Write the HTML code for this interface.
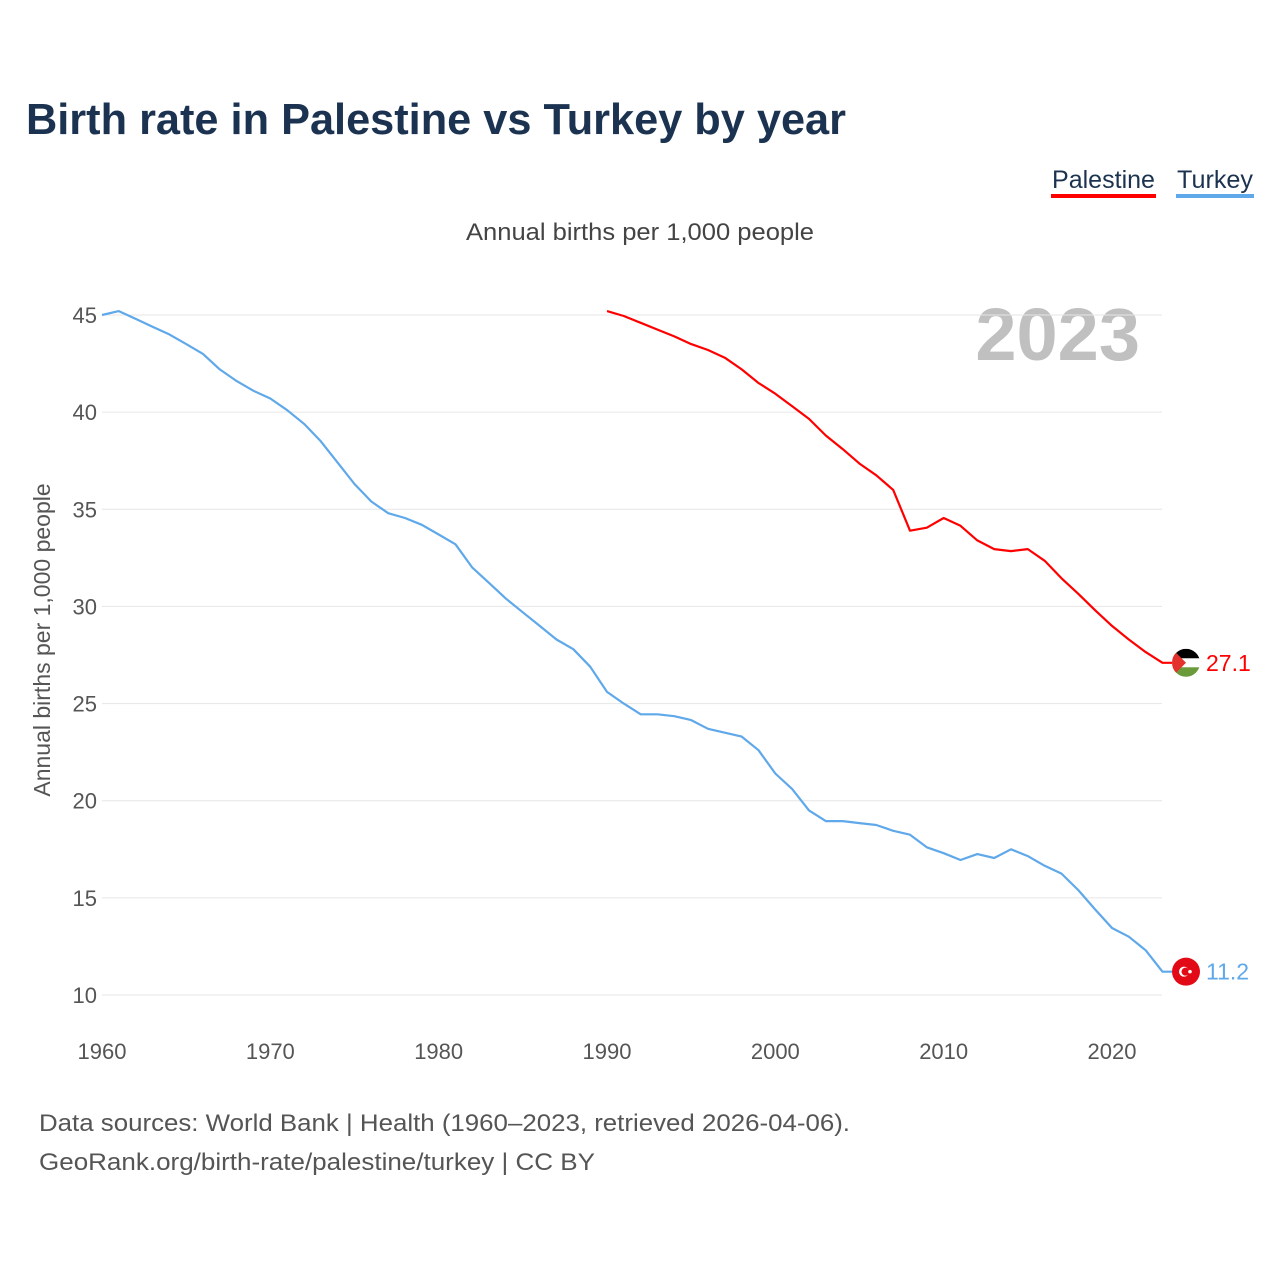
<!DOCTYPE html>
<html><head><meta charset="utf-8"><style>
body{margin:0;background:#fff;font-family:"Liberation Sans",sans-serif;}
#wrap{position:relative;width:1280px;height:1280px;overflow:hidden;}
</style></head><body>
<div id="wrap">
<svg id="chart" width="1280" height="1280">
<text x="26" y="134" font-size="44" font-weight="bold" fill="#1b3350" textLength="820" lengthAdjust="spacingAndGlyphs">Birth rate in Palestine vs Turkey by year</text>
<g><text x="1052" y="188" font-size="25" fill="#1b3350" textLength="103" lengthAdjust="spacingAndGlyphs">Palestine</text><rect x="1051" y="194" width="105" height="4" fill="#ff0000"/></g>
<g><text x="1177" y="188" font-size="25" fill="#1b3350" textLength="76" lengthAdjust="spacingAndGlyphs">Turkey</text><rect x="1176" y="194" width="78" height="4" fill="#5fa8ea"/></g>
<text x="466" y="240" font-size="24" fill="#444" textLength="348" lengthAdjust="spacingAndGlyphs">Annual births per 1,000 people</text>
<text x="1140" y="360" font-size="74" font-weight="bold" fill="#c0c0c0" text-anchor="end">2023</text>
<text transform="translate(50,640) rotate(-90)" font-size="23" fill="#555" text-anchor="middle">Annual births per 1,000 people</text>
<g id="grid"></g><g id="series"></g>
<text x="39" y="1131" font-size="24" fill="#555" textLength="811" lengthAdjust="spacingAndGlyphs">Data sources: World Bank | Health (1960–2023, retrieved 2026-04-06).</text>
<text x="39" y="1170" font-size="24" fill="#555" textLength="556" lengthAdjust="spacingAndGlyphs">GeoRank.org/birth-rate/palestine/turkey | CC BY</text>
</svg></div>
<script>
const yTicks=[10,15,20,25,30,35,40,45];
const xTicks=[1960,1970,1980,1990,2000,2010,2020];
const turkeyYears=[];for(let y=1960;y<=2023;y++)turkeyYears.push(y);
const turkeyValues=[45.0,45.2,44.8,44.4,44.0,43.5,43.0,42.2,41.6,41.1,40.7,40.1,39.4,38.5,37.4,36.3,35.4,34.8,34.55,34.2,33.7,33.2,32.0,31.2,30.4,29.7,29.0,28.3,27.8,26.9,25.6,25.0,24.45,24.45,24.35,24.15,23.7,23.5,23.3,22.6,21.4,20.6,19.5,18.95,18.95,18.85,18.75,18.45,18.25,17.6,17.3,16.95,17.25,17.05,17.5,17.15,16.65,16.25,15.4,14.4,13.45,13.0,12.3,11.2];
const palestineYears=[];for(let y=1990;y<=2023;y++)palestineYears.push(y);
const palestineValues=[45.2,44.95,44.6,44.25,43.9,43.5,43.2,42.8,42.2,41.5,40.95,40.3,39.65,38.8,38.1,37.35,36.75,36.0,33.9,34.05,34.55,34.15,33.4,32.95,32.85,32.95,32.35,31.45,30.65,29.8,29.0,28.3,27.65,27.1];
const NS="http://www.w3.org/2000/svg";
const xs=y=>102+(y-1960)*(1010/60);
const ys=v=>995-(v-10)*(680/35);
function mk(tag,attrs,parent){const e=document.createElementNS(NS,tag);for(const k in attrs)e.setAttribute(k,attrs[k]);parent.appendChild(e);return e;}
const grid=document.getElementById('grid'),ser=document.getElementById('series');
yTicks.forEach(t=>{
 const l=mk('line',{x1:102,x2:1162,y1:ys(t),y2:ys(t),stroke:'#e6e6e6','stroke-width':1},grid);
 
 
 const tx=mk('text',{x:97,y:ys(t)+8,'font-size':22,fill:'#555','text-anchor':'end'},grid);tx.textContent=t;
 
 
});
xTicks.forEach(t=>{
 const tx=mk('text',{x:xs(t),y:1059,'font-size':22,fill:'#555','text-anchor':'middle'},grid);tx.textContent=t;
 
 
});
function line(years,vals,color,name){
 let d=years.map((y,i)=>(i?'L':'M')+xs(y).toFixed(1)+','+ys(vals[i]).toFixed(1)).join('');
 const last=vals[vals.length-1],ly=ys(last);
 d+='L1172,'+ly.toFixed(1);
 const p=mk('path',{d:d,fill:'none',stroke:color,'stroke-width':2.2,'stroke-linejoin':'round'},ser);
 
 
 const lb=mk('text',{x:1206,y:ly+8,'font-size':23,fill:color},ser);lb.textContent=last.toFixed(1);
 
 
 return ly;
}
const py=line(palestineYears,palestineValues,'#ff0000','palestine');
const ty=line(turkeyYears,turkeyValues,'#5fa8ea','turkey');
const pf=mk('g',{},ser);


mk('clipPath',{id:'cp'},pf);
document.getElementById('cp').appendChild(document.createElementNS(NS,'circle'));
const cc=document.querySelector('#cp circle');cc.setAttribute('cx',1186);cc.setAttribute('cy',py);cc.setAttribute('r',14);
const fg=mk('g',{'clip-path':'url(#cp)'},pf);
mk('rect',{x:1172,y:py-14,width:28,height:10,fill:'#000'},fg);
mk('rect',{x:1172,y:py-4.5,width:28,height:9,fill:'#fff'},fg);
mk('rect',{x:1172,y:py+4.5,width:28,height:10,fill:'#6a9a3a'},fg);
mk('polygon',{points:`1172,${py-14} 1186,${py} 1172,${py+14}`,fill:'#e4312b'},fg);
const tf=mk('g',{},ser);


mk('circle',{cx:1186,cy:ty,r:14,fill:'#e30a17'},tf);
mk('circle',{cx:1184,cy:ty,r:5,fill:'#fff'},tf);
mk('circle',{cx:1185.5,cy:ty,r:4,fill:'#e30a17'},tf);
mk('circle',{cx:1190,cy:ty,r:1.8,fill:'#fff'},tf);
</script>
</body></html>
